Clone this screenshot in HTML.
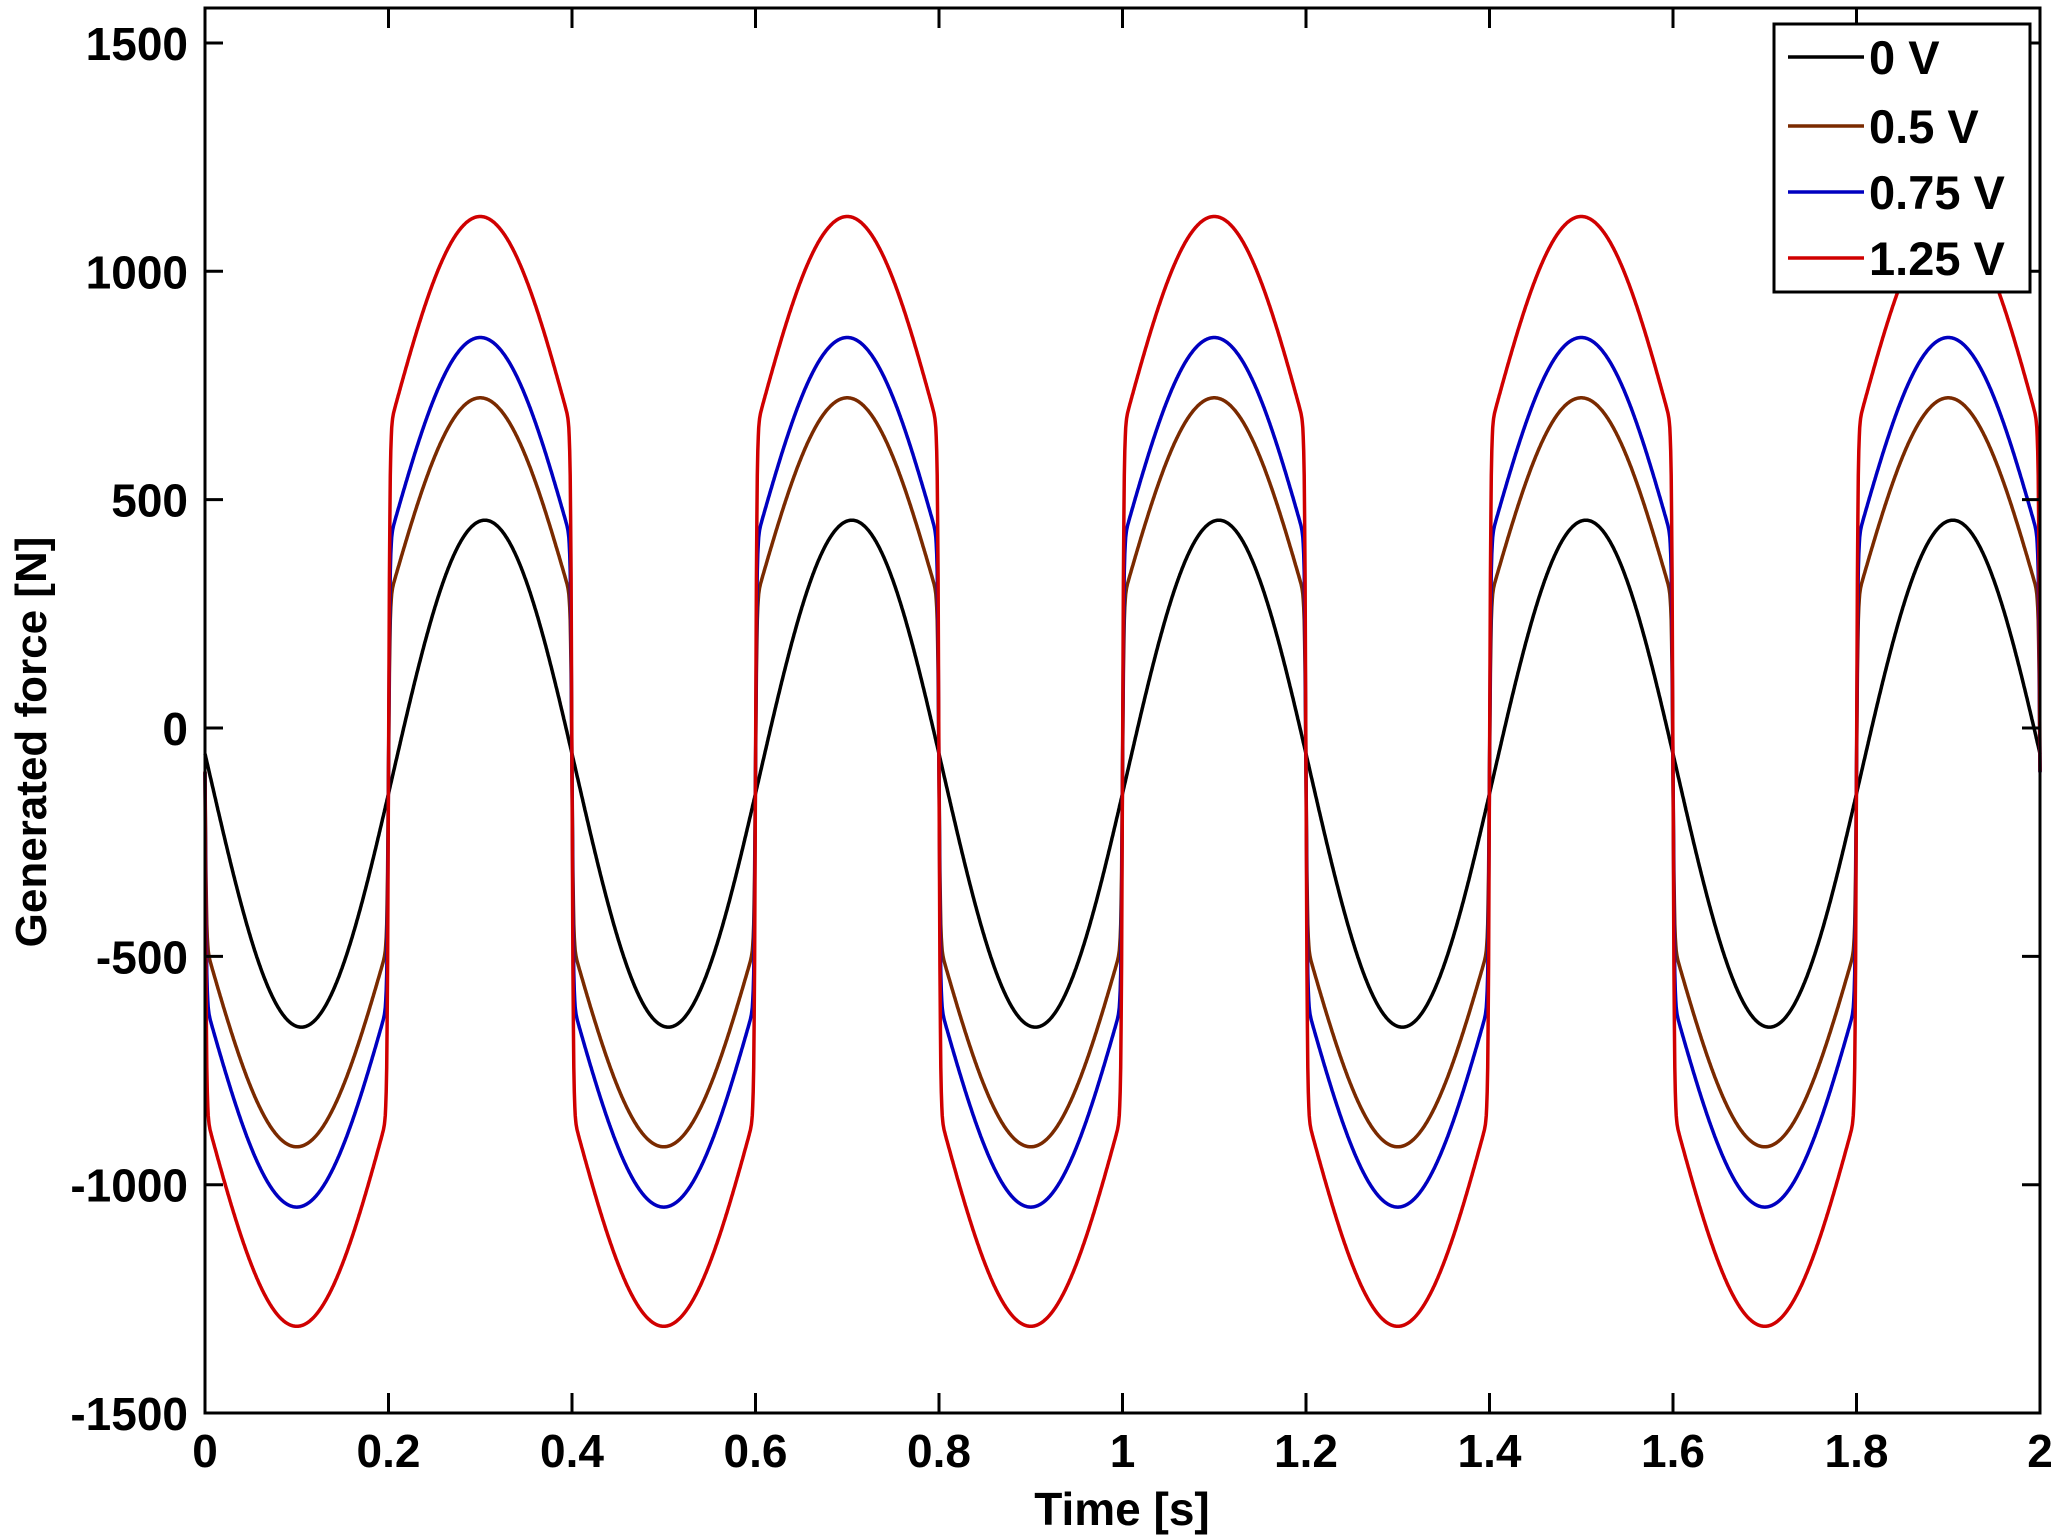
<!DOCTYPE html>
<html><head><meta charset="utf-8"><style>
html,body{margin:0;padding:0;background:#fff;}
svg{display:block;}
text{font-family:"Liberation Sans",Arial,sans-serif;font-weight:bold;fill:#000;}
</style></head><body>
<svg id="s" width="2067" height="1538" viewBox="0 0 2067 1538" xmlns="http://www.w3.org/2000/svg">
<rect width="2067" height="1538" fill="#fff"/>
<g id="curves" fill="none" stroke-width="3.5" stroke-linejoin="round"></g>
<rect x="205" y="8" width="1835" height="1405" fill="none" stroke="#000" stroke-width="3"/>
<g id="ticks" stroke="#000" stroke-width="3"></g>
<g id="labels" font-size="46"></g>
<text x="1122" y="1525" font-size="46" text-anchor="middle">Time [s]</text>
<text transform="translate(46,742) rotate(-90)" font-size="44" text-anchor="middle">Generated force [N]</text>
<g>
<rect x="1774" y="24" width="256" height="268" fill="#fff" stroke="#000" stroke-width="3"/>
<line x1="1788" y1="57" x2="1864" y2="57" stroke="#000" stroke-width="3.5"/>
<line x1="1788" y1="126" x2="1864" y2="126" stroke="#7a2a00" stroke-width="3.5"/>
<line x1="1788" y1="192" x2="1864" y2="192" stroke="#0000c0" stroke-width="3.5"/>
<line x1="1788" y1="258" x2="1864" y2="258" stroke="#d00000" stroke-width="3.5"/>
<text x="1869" y="74" font-size="47">0 V</text>
<text x="1869" y="143" font-size="47">0.5 V</text>
<text x="1869" y="209" font-size="47">0.75 V</text>
<text x="1869" y="275" font-size="47">1.25 V</text>
</g>
</svg>
<script>
var X=function(t){return 205+t*917.5;};
var Y=function(v){return 728-v*0.4567;};
var series=[
 {c:"#000000",off:-100,A:555,C:0,ph:0.205},
 {c:"#7a2a00",off:-97,A:445,C:375,ph:0.2},
 {c:"#0000c0",off:-97,A:450,C:502,ph:0.2},
 {c:"#d00000",off:-95,A:470,C:745,ph:0.2}
];
var g=document.getElementById("curves");
series.forEach(function(s){
 var d="";
 for(var i=0;i<=4000;i++){
  var t=i/2000;
  var ss=Math.sin(2*Math.PI*(t-s.ph)/0.4);
  var v=s.off+s.A*ss+s.C*Math.tanh(ss*40);
  d+=(i?"L":"M")+X(t).toFixed(1)+" "+Y(v).toFixed(1);
 }
 var p=document.createElementNS("http://www.w3.org/2000/svg","path");
 p.setAttribute("d",d);p.setAttribute("stroke",s.c);
 g.appendChild(p);
});
var tk=document.getElementById("ticks"),lb=document.getElementById("labels");
var ns="http://www.w3.org/2000/svg";
function ln(a,b,c,d){var l=document.createElementNS(ns,"line");l.setAttribute("x1",a);l.setAttribute("y1",b);l.setAttribute("x2",c);l.setAttribute("y2",d);tk.appendChild(l);}
function tx(x,y,s,anc){var t=document.createElementNS(ns,"text");t.setAttribute("x",x);t.setAttribute("y",y);t.setAttribute("text-anchor",anc);t.textContent=s;lb.appendChild(t);}
var xl=["0","0.2","0.4","0.6","0.8","1","1.2","1.4","1.6","1.8","2"];
for(var i=0;i<=10;i++){var x=X(i*0.2);ln(x,1413,x,1393);ln(x,8,x,28);tx(x,1467,xl[i],"middle");}
for(var v=-1500;v<=1500;v+=500){var y=Y(v);ln(205,y,223,y);ln(2040,y,2022,y);tx(188,y+17,String(v),"end");}
</script>
</body></html>
